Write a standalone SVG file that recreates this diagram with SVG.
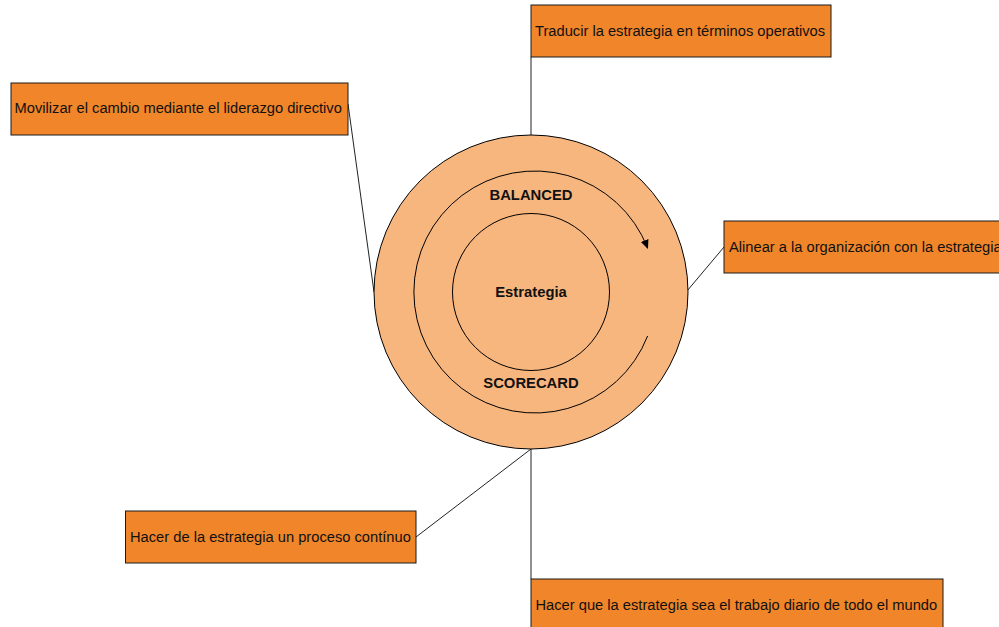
<svg xmlns="http://www.w3.org/2000/svg" width="999" height="627" viewBox="0 0 999 627">
<defs>
<style>
.box{fill:#F0852A;stroke:#1a1a1a;stroke-width:1}
.lbl{font-family:"Liberation Sans",Arial,sans-serif;font-size:14.7px;fill:#111}
.bold{font-family:"Liberation Sans",Arial,sans-serif;font-size:14.8px;font-weight:bold;fill:#111;text-anchor:middle}
.conn{stroke:#222;stroke-width:1;fill:none}
.ring{fill:none;stroke:#000;stroke-width:1}
</style>
<marker id="arr" markerWidth="10" markerHeight="10" refX="8" refY="5" orient="auto" markerUnits="userSpaceOnUse">
<path d="M0,1 L9,5 L0,9 Z" fill="#000"/>
</marker>
</defs>
<rect width="999" height="627" fill="#fff"/>
<g id="connectors">
<line class="conn" x1="531" y1="57" x2="531" y2="137"/>
<line class="conn" x1="348" y1="104" x2="374" y2="292"/>
<line class="conn" x1="724" y1="247" x2="687" y2="291"/>
<line class="conn" x1="416" y1="537" x2="531" y2="449"/>
<line class="conn" x1="531" y1="449" x2="531" y2="579"/>
</g>
<g id="circle">
<circle cx="531" cy="292" r="157" fill="#F8B67F" stroke="#000" stroke-width="1"/>
<path class="ring" d="M 647.6 336 A 121 121 0 1 1 647.6 248" marker-end="url(#arr)"/>
<circle cx="531" cy="292" r="78.5" fill="#F8B67F" stroke="#000" stroke-width="1"/>
<text class="bold" x="531" y="200">BALANCED</text>
<text class="bold" x="531" y="297">Estrategia</text>
<text class="bold" x="531" y="388">SCORECARD</text>
</g>
<g id="node-traducir">
<rect class="box" x="531" y="5" width="300" height="52"/>
<text class="lbl" x="535" y="36">Traducir la estrategia en términos operativos</text>
</g>
<g id="node-movilizar">
<rect class="box" x="11" y="83" width="337" height="52"/>
<text class="lbl" x="14.5" y="113">Movilizar el cambio mediante el liderazgo directivo</text>
</g>
<g id="node-alinear">
<rect class="box" x="724" y="221" width="290" height="52"/>
<text class="lbl" x="729" y="252">Alinear a la organización con la estrategia</text>
</g>
<g id="node-proceso">
<rect class="box" x="125.5" y="511" width="290.5" height="52"/>
<text class="lbl" x="130" y="542">Hacer de la estrategia un proceso contínuo</text>
</g>
<g id="node-trabajo">
<rect class="box" x="531" y="579" width="412" height="60"/>
<text class="lbl" x="535.5" y="610">Hacer que la estrategia sea el trabajo diario de todo el mundo</text>
</g>
</svg>
